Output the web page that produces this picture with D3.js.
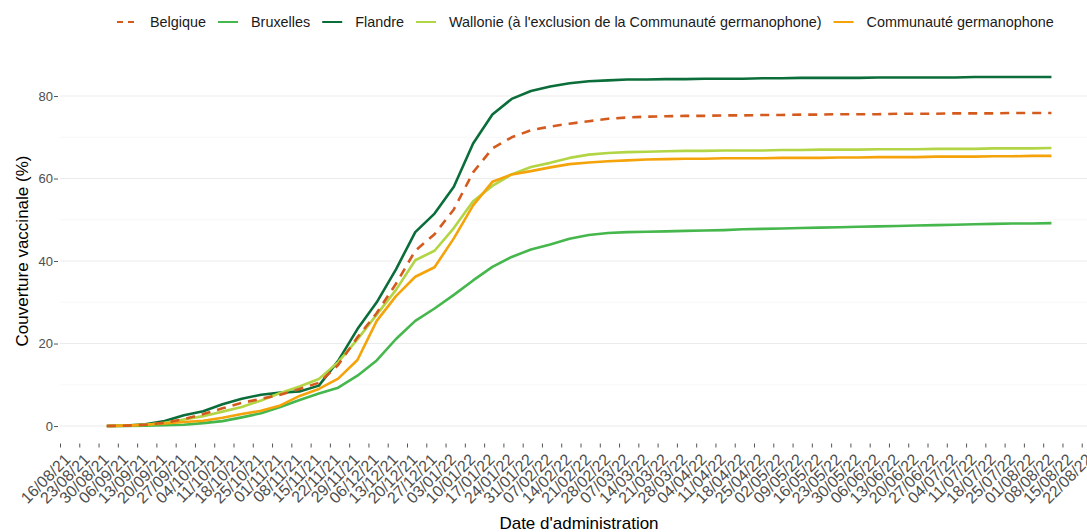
<!DOCTYPE html>
<html><head><meta charset="utf-8">
<script src="https://cdn.jsdelivr.net/npm/d3@7"></script>
<style>body{margin:0;background:#fff}svg{display:block;font-family:"Liberation Sans",Arial,sans-serif}</style>
</head><body><svg id="c" width="1087" height="532"></svg>
<script>
// weekly dates starting 2021-09-02
const startDate = "2021-09-02";
const nWeeks = 50;
const belgique  = [0,0.1,0.3,0.8,1.7,2.9,4.3,5.6,6.6,7.6,9.0,10.5,14.8,21.5,27.4,34.5,42.5,46.5,52.5,61.5,67.3,70.0,71.7,72.6,73.3,73.9,74.5,74.8,75.0,75.1,75.2,75.2,75.3,75.3,75.4,75.4,75.5,75.5,75.6,75.6,75.6,75.7,75.7,75.7,75.8,75.8,75.8,75.9,75.9,75.9];
const bruxelles = [0,0,0.1,0.2,0.3,0.7,1.2,2.1,3.1,4.6,6.3,7.9,9.3,12.2,15.9,21.1,25.5,28.5,31.8,35.3,38.6,41.0,42.8,44.0,45.4,46.3,46.8,47.0,47.1,47.2,47.3,47.4,47.5,47.7,47.8,47.9,48.0,48.1,48.2,48.3,48.4,48.5,48.6,48.7,48.8,48.9,49.0,49.1,49.1,49.2];
const flandre   = [0,0.1,0.4,1.2,2.6,3.6,5.3,6.6,7.6,8.1,8.4,9.8,15.8,23.5,30.0,38.0,47.0,51.5,58.0,68.5,75.5,79.3,81.2,82.3,83.1,83.6,83.8,84.0,84.0,84.1,84.1,84.2,84.2,84.2,84.3,84.3,84.4,84.4,84.4,84.4,84.5,84.5,84.5,84.5,84.5,84.6,84.6,84.6,84.6,84.6];
const wallonie  = [0,0.1,0.3,0.8,1.6,2.4,3.5,4.6,6.2,8.0,9.6,11.4,15.5,21.0,27.0,33.0,40.2,42.5,48.0,54.5,58.2,61.0,62.8,63.8,65.0,65.8,66.2,66.4,66.5,66.6,66.7,66.7,66.8,66.8,66.8,66.9,66.9,67.0,67.0,67.0,67.1,67.1,67.1,67.2,67.2,67.2,67.3,67.3,67.3,67.4];
const germano   = [0,0.1,0.3,0.6,1.0,1.3,2.0,2.9,3.7,5.0,7.3,9.0,11.5,16.0,25.5,31.5,36.2,38.5,45.5,53.5,59.2,61.0,61.8,62.7,63.5,63.9,64.2,64.4,64.6,64.7,64.8,64.8,64.9,64.9,64.9,65.0,65.0,65.0,65.1,65.1,65.2,65.2,65.2,65.3,65.3,65.3,65.4,65.4,65.5,65.5];
const seriesNames = ["Belgique","Bruxelles","Flandre","Wallonie (à l'exclusion de la Communauté germanophone)","Communauté germanophone"];
const seriesColors = ["#d55a1e","#45b74d","#0b6e3a","#b2d545","#f5a30a"];
const yTicks = [0,20,40,60,80];
const xTickStart = "2021-08-16", xTickEnd = "2022-08-22";

const parse = d3.timeParse("%Y-%m-%d");
const dates = d3.range(nWeeks).map(i => d3.timeDay.offset(parse(startDate), 7*i));
const allVals = [belgique,bruxelles,flandre,wallonie,germano];

const svg = d3.select("#c");
const L = 60, T = 59.6, B = 443.5;
const x = d3.scaleTime().domain([parse("2021-08-16"), parse("2022-08-27")]).range([L, L + 376*2.754]);
const y = d3.scaleLinear().domain([-4.23, 88.83]).range([B, T]);

// grid
const gx1 = L, gx2 = 1087;
svg.append("g").selectAll("line").data([10,30,50,70]).join("line")
  .attr("x1",gx1).attr("x2",gx2).attr("y1",d=>y(d)).attr("y2",d=>y(d))
  .attr("stroke","#f2f2f2").attr("stroke-width",0.6);
svg.append("g").selectAll("line").data(yTicks).join("line")
  .attr("x1",gx1).attr("x2",gx2).attr("y1",d=>y(d)).attr("y2",d=>y(d))
  .attr("stroke","#ebebeb").attr("stroke-width",1.1);

// y axis
const ya = svg.append("g").attr("transform",`translate(${L},0)`)
  .call(d3.axisLeft(y).tickValues(yTicks).tickSize(4).tickPadding(3));
ya.select(".domain").remove();
ya.selectAll("line").attr("stroke","#555").attr("transform","translate(-2,0)");
ya.selectAll("text").attr("fill","#4d4d4d").style("font-size","13px").attr("font-family","Liberation Sans, Arial, sans-serif");

// x axis
const xt = d3.timeDay.range(parse(xTickStart), d3.timeDay.offset(parse(xTickEnd),1), 7);
const xa = svg.append("g").attr("transform",`translate(0,${B})`)
  .call(d3.axisBottom(x).tickValues(xt).tickSize(4).tickFormat(d3.timeFormat("%d/%m/%y")));
xa.select(".domain").remove();
xa.selectAll("line").attr("stroke","#555");
xa.selectAll("text").attr("fill","#4d4d4d").style("font-size","16px")
  .attr("font-family","Liberation Sans, Arial, sans-serif")
  .attr("text-anchor","end").attr("y",0).attr("dy","0.7em")
  .attr("transform","translate(3,9) rotate(-45)");

// lines
const line = d3.line().x((d,i)=>x(dates[i])).y(d=>y(d));
const order = [1,2,3,4,0];
order.forEach(k=>{
  svg.append("path").datum(allVals[k]).attr("d",line)
    .attr("fill","none").attr("stroke",seriesColors[k]).attr("stroke-width",2.6)
    .attr("stroke-linejoin","round")
    .attr("stroke-dasharray", k===0 ? "9,7" : null);
});

// titles
svg.append("text").attr("x",579).attr("y",529).attr("text-anchor","middle")
  .style("font-size","17px").attr("fill","#000").text("Date d'administration");
svg.append("text").attr("transform","translate(28,251) rotate(-90)").attr("text-anchor","middle")
  .style("font-size","17px").attr("fill","#000").text("Couverture vaccinale (%)");

// legend
const lg = svg.append("g");
let lx = 117; const ly = 22;
seriesNames.forEach((n,k)=>{
  lg.append("line").attr("x1",lx).attr("x2",lx+20).attr("y1",ly).attr("y2",ly)
    .attr("stroke",seriesColors[k]).attr("stroke-width",2)
    .attr("stroke-dasharray", k===0 ? "6,5" : null);
  const t = lg.append("text").attr("x",lx+33).attr("y",ly+5).style("font-size","14.4px").attr("fill","#1a1a1a").text(n);
  lx = lx + 33 + t.node().getComputedTextLength() + 12;
});
</script></body></html>
